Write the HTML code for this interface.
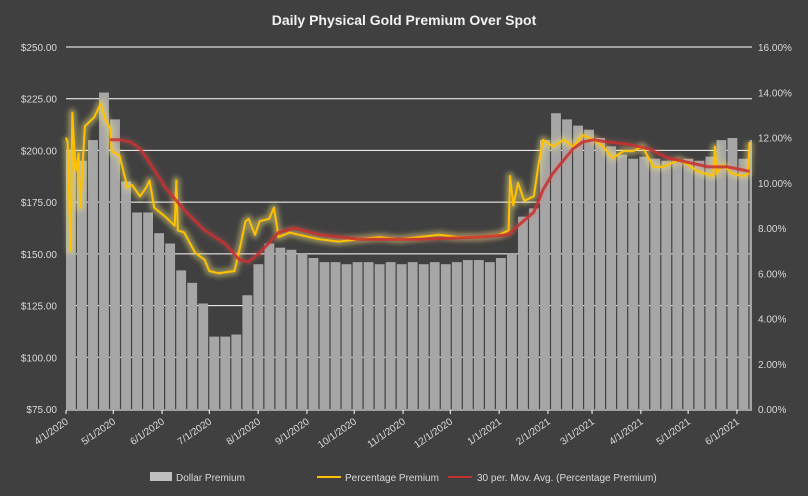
<!DOCTYPE html>
<html><head><meta charset="utf-8"><style>
html,body{margin:0;padding:0;background:#404040;}
svg{display:block;font-family:"Liberation Sans",sans-serif;}
</style></head><body>
<svg id="chart" width="808" height="496" viewBox="0 0 808 496">
<defs>
<filter id="blur" x="-5%" y="-20%" width="110%" height="140%"><feGaussianBlur stdDeviation="2.5"/></filter>
</defs>
<rect x="0" y="0" width="808" height="496" fill="#404040"/>
<text x="404" y="25" text-anchor="middle" fill="#f2f2f2" font-size="14" font-weight="bold">Daily Physical Gold Premium Over Spot</text>
<g id="grid"></g>
<g id="bars"></g>
<g id="lines"></g>
<g id="axes"></g>
<g id="legend">
<rect x="150" y="472" width="22" height="9" fill="#bfbfbf"/>
<text x="176" y="481" fill="#d9d9d9" font-size="10">Dollar Premium</text>
<line x1="317" y1="477" x2="341" y2="477" stroke="#ffc000" stroke-width="2"/>
<text x="345" y="481" fill="#d9d9d9" font-size="10">Percentage Premium</text>
<line x1="448" y1="477" x2="472" y2="477" stroke="#c0302f" stroke-width="2"/>
<text x="477" y="481" fill="#d9d9d9" font-size="10">30 per. Mov. Avg. (Percentage Premium)</text>
</g>
</svg>
<script>
// weekly dollar premium bars (weeks starting 4/1/2020)
const barWeeks = [0,1,2,3,4,5,6,7,8,9,10,11,12,13,14,15,16,17,18,19,20,21,22,23,24,25,26,27,28,29,30,31,32,33,34,35,36,37,38,39,40,41,42,43,44,45,46,47,48,49,50,51,52,53,54,55,56,57,58,59,60,61,62];
const dollarVals = [200,195,205,228,215,185,170,170,160,155,142,136,126,110,110,111,130,145,155,153,152,150,148,146,146,145,146,146,145,146,145,146,145,146,145,146,147,147,146,148,150,168,172,205,218,215,212,210,206,202,198,196,197,196,195,195,196,195,197,205,206,196,205];
// percentage premium (days since 4/1/2020)
const pctDays = [0,1,3,4,6,8,9,12,18,22,25,28,29,34,39,42,47,51,53,56,63,69,70,71,75,82,88,91,97,107,111,114,116,120,123,129,132,135,142,148,161,173,186,199,211,224,237,249,262,275,281,282,284,287,291,297,300,303,309,316,322,328,335,341,347,354,360,366,373,379,389,395,401,411,412,413,417,423,430,433,434];
const pctVals = [12.0,11.8,7.0,13.1,10.5,11.3,8.9,12.5,12.9,13.5,12.8,12.4,11.4,11.2,9.8,9.9,9.4,9.8,10.1,8.9,8.5,8.1,10.1,7.9,7.8,6.9,6.6,6.1,6.0,6.1,7.3,8.3,8.4,7.7,8.3,8.4,8.9,7.6,7.8,7.7,7.5,7.4,7.5,7.6,7.5,7.6,7.7,7.6,7.6,7.7,7.9,10.3,9.0,10.0,9.2,9.4,10.8,11.9,11.6,11.9,11.6,12.1,11.9,11.6,11.1,11.4,11.4,11.6,10.7,10.7,11.0,10.8,10.5,10.3,11.6,10.4,10.8,10.4,10.3,10.4,11.8];
// 30 period moving average
const maDays = [28,34,41,47,53,63,75,88,101,110,116,123,135,145,161,186,224,262,281,287,297,303,309,316,322,328,335,344,357,370,382,395,408,420,434];
const maVals = [11.9,11.9,11.8,11.5,10.9,9.8,8.8,7.9,7.3,6.6,6.5,6.9,7.8,8.0,7.7,7.5,7.5,7.6,7.7,8.1,8.7,9.7,10.4,11.0,11.5,11.8,11.9,11.8,11.7,11.5,11.1,10.9,10.7,10.7,10.5];
const leftTicks = ["$75.00","$100.00","$125.00","$150.00","$175.00","$200.00","$225.00","$250.00"];
const rightTicks = ["0.00%","2.00%","4.00%","6.00%","8.00%","10.00%","12.00%","14.00%","16.00%"];
const monthLabels = ["4/1/2020","5/1/2020","6/1/2020","7/1/2020","8/1/2020","9/1/2020","10/1/2020","11/1/2020","12/1/2020","1/1/2021","2/1/2021","3/1/2021","4/1/2021","5/1/2021","6/1/2021"];
const monthDays = [0,30,61,91,122,153,183,214,244,275,306,334,365,395,426];

const NS="http://www.w3.org/2000/svg";
const X0=66,X1=752,YT=47,YB=409,PPD=1.575;
const xS=d=>X0+d*PPD;
const yD=v=>YB-(v-75)/175*(YB-YT);
const yP=v=>YB-v/16*(YB-YT);
function mk(tag,attrs,parent){const e=document.createElementNS(NS,tag);for(const k in attrs)e.setAttribute(k,attrs[k]);parent.appendChild(e);return e;}
const grid=document.getElementById('grid'),bars=document.getElementById('bars'),lines=document.getElementById('lines'),axes=document.getElementById('axes');
leftTicks.forEach((t,i)=>{const v=75+i*25,y=yD(v);
 if(i>0){const g=mk('line',{x1:X0,x2:X1,y1:y,y2:y,stroke:'#ffffff','stroke-width':1},grid);
 
 }
 const tx=mk('text',{x:57,y:y+4,'text-anchor':'end',fill:'#d9d9d9','font-size':10},axes);tx.textContent=t;
 
 });
rightTicks.forEach((t,i)=>{const y=yP(i*2);
 const tx=mk('text',{x:758,y:y+4,fill:'#d9d9d9','font-size':10},axes);tx.textContent=t;
 
 });
const bw=7*PPD;
barWeeks.forEach((w,i)=>{const x=xS(w*7);const w2=Math.min(bw-1.2,X1-x);if(w2<=0)return;
 const y=yD(dollarVals[i]);
 const r=mk('rect',{x:x,y:y,width:w2,height:YB-y,fill:'#a6a6a6'},bars);
 
 });
function path(days,vals){return days.map((d,i)=>(i?'L':'M')+xS(d).toFixed(1)+' '+yP(vals[i]).toFixed(1)).join(' ');}
const pg=mk('path',{d:path(pctDays,pctVals),fill:'none',stroke:'#f2e27a','stroke-width':8,'stroke-opacity':0.45,'stroke-linejoin':'round',filter:'url(#blur)'},lines);


const mg=mk('path',{d:path(maDays,maVals),fill:'none',stroke:'#e07070','stroke-width':6,'stroke-opacity':0.25,'stroke-linejoin':'round',filter:'url(#blur)'},lines);


const pl=mk('path',{d:path(pctDays,pctVals),fill:'none',stroke:'#ffc000','stroke-width':2,'stroke-linejoin':'round'},lines);


const ml=mk('path',{d:path(maDays,maVals),fill:'none',stroke:'#c8302f','stroke-width':3,'stroke-opacity':0.85,'stroke-linejoin':'round'},lines);


const ax=mk('line',{x1:X0,x2:X1,y1:YB+1,y2:YB+1,stroke:'#ffffff','stroke-width':1},axes);


monthDays.forEach((d,i)=>{const x=xS(d);
 mk('line',{x1:x,x2:x,y1:YB+1,y2:YB+5,stroke:'#ffffff','stroke-width':1},axes);
 const tx=mk('text',{x:x+3,y:YB+14,'text-anchor':'end',fill:'#d9d9d9','font-size':10,transform:`rotate(-35 ${x+3} ${YB+14})`},axes);
 tx.textContent=monthLabels[i];
 
 });
</script>
</body></html>
